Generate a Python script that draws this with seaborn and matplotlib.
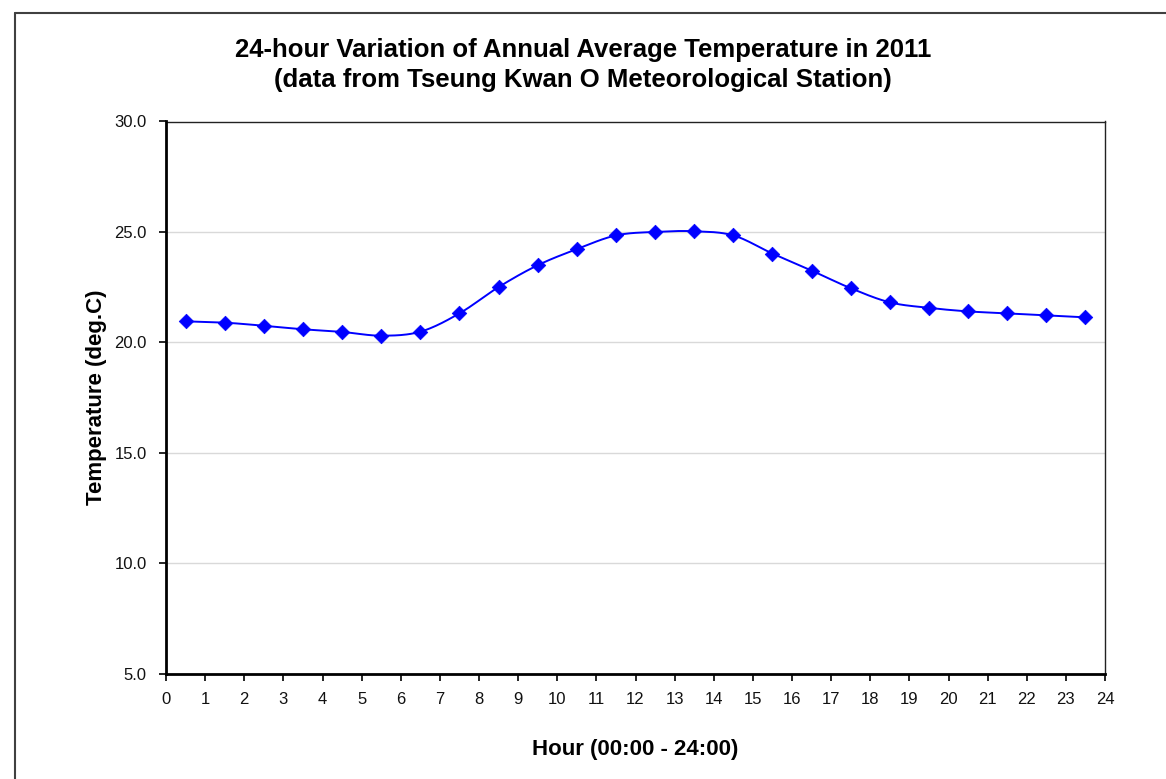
import numpy as np
import pandas as pd
import matplotlib
matplotlib.use("Agg")
import matplotlib.pyplot as plt
from matplotlib.lines import Line2D
import seaborn as sns

# Hourly mean temperatures (deg C), plotted at the middle of each hour
hours = [0.5, 1.5, 2.5, 3.5, 4.5, 5.5, 6.5, 7.5, 8.5, 9.5, 10.5, 11.5,
         12.5, 13.5, 14.5, 15.5, 16.5, 17.5, 18.5, 19.5, 20.5, 21.5, 22.5, 23.5]
temperature = [20.95, 20.89, 20.75, 20.59, 20.47, 20.30, 20.48, 21.31, 22.50, 23.49, 24.22, 24.84,
               25.00, 25.03, 24.84, 24.02, 23.25, 22.45, 21.81, 21.56, 21.40, 21.31, 21.22, 21.13]

title_lines = ["24-hour Variation of Annual Average Temperature in 2011",
               "(data from Tseung Kwan O Meteorological Station)"]
x_label = "Hour (00:00 - 24:00)"
y_label = "Temperature (deg.C)"
x_ticks = list(range(0, 25))
y_ticks = [5, 10, 15, 20, 25, 30]

sns.set_theme(style="white")
plt.rcParams["font.family"] = ["Liberation Sans", "DejaVu Sans"]


def smooth_curve(x, y, steps=20):
    """Catmull-Rom curve through the points, for a smoothed line."""
    x = np.asarray(x, float)
    y = np.asarray(y, float)
    px = np.concatenate([[x[0]], x, [x[-1]]])
    py = np.concatenate([[y[0]], y, [y[-1]]])
    xs, ys = [], []
    t = np.linspace(0, 1, steps, endpoint=False)
    for i in range(1, len(px) - 2):
        for arr, out in ((px, xs), (py, ys)):
            p0, p1, p2, p3 = arr[i - 1], arr[i], arr[i + 1], arr[i + 2]
            out.extend(0.5 * ((2 * p1) + (-p0 + p2) * t
                              + (2 * p0 - 5 * p1 + 4 * p2 - p3) * t ** 2
                              + (-p0 + 3 * p1 - 3 * p2 + p3) * t ** 3))
    xs.append(x[-1])
    ys.append(y[-1])
    return np.array(xs), np.array(ys)


df = pd.DataFrame({"hour": hours, "temp": temperature})
sx, sy = smooth_curve(hours, temperature)
curve = pd.DataFrame({"hour": sx, "temp": sy})

W, H = 1166, 779
fig = plt.figure(figsize=(W / 100, H / 100), dpi=100)
fig.patch.set_facecolor("white")
ax = fig.add_axes([166 / W, 1 - 673.5 / H, (1105 - 166) / W, (673.5 - 121.5) / H])

ax.set_ylim(5, 30)
ax.set_xlim(0, 24)
ax.set_yticks(y_ticks)
ax.set_xticks(x_ticks)
ax.set_yticklabels([f"{v:.1f}" for v in y_ticks])
ax.set_xticklabels([str(v) for v in x_ticks])

for v in y_ticks[1:-1]:
    ax.axhline(v, color="#d9d9d9", lw=1.0, zorder=0)

sns.lineplot(data=curve, x="hour", y="temp", ax=ax, color="#0000ff",
             lw=1.4, sort=False, estimator=None, zorder=2)
sns.scatterplot(data=df, x="hour", y="temp", ax=ax, marker="D", s=55,
                color="#0000ff", edgecolor="#0000ff", linewidth=0.5, zorder=3)

for side in ("left", "bottom"):
    ax.spines[side].set_linewidth(2.0)
    ax.spines[side].set_color("black")
for side in ("top", "right"):
    ax.spines[side].set_linewidth(1.0)
    ax.spines[side].set_color("#222222")
ax.spines["left"].set_zorder(4)
ax.spines["bottom"].set_zorder(4)

ax.tick_params(axis="both", which="major", direction="out", length=5, width=1.2,
               color="black", labelsize=12, labelcolor="#111111")
ax.tick_params(axis="x", bottom=True, pad=8)
ax.tick_params(axis="y", left=True, pad=9)

ax.set_xlabel(x_label, fontsize=16, fontweight="bold", labelpad=23, color="black")
ax.set_ylabel(y_label, fontsize=16, fontweight="bold", labelpad=5, color="black")

fig.text(0.5, 1 - 50 / H, title_lines[0], ha="center", va="center",
         fontsize=18.5, fontweight="bold", color="black")
fig.text(0.5, 1 - 80 / H, title_lines[1], ha="center", va="center",
         fontsize=18.5, fontweight="bold", color="black")

# Chart frame (left and top edges)
fig.add_artist(Line2D([15 / W, 15 / W], [0, 1 - 13 / H], color="#404040", lw=1.5))
fig.add_artist(Line2D([15 / W, 1], [1 - 13 / H, 1 - 13 / H], color="#404040", lw=1.5))

fig.savefig("out.png", dpi=100, facecolor="white")
